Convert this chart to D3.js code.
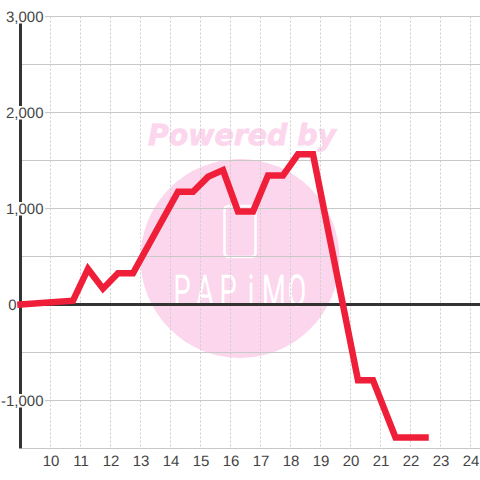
<!DOCTYPE html>
<html><head><meta charset="utf-8">
<script src="https://cdnjs.cloudflare.com/ajax/libs/d3/7.8.5/d3.min.js"></script>
<style>html,body{margin:0;padding:0;background:#fff}svg{display:block}text{font-family:"Liberation Sans",Arial,sans-serif;text-rendering:geometricPrecision}</style>
</head><body><svg id="c" width="480" height="480"></svg>
<script>
const xTicks=[10,11,12,13,14,15,16,17,18,19,20,21,22,23,24];
const yGrid=[3000,2500,2000,1500,1000,500,0,-500,-1000,-1500];
const yLabelled=[3000,2000,1000,0,-1000];
const seriesX=[9,10.75,11.25,11.75,12.25,12.75,14.25,14.75,15.25,15.75,16.25,16.75,17.25,17.75,18.25,18.75,20.25,20.75,21.5,22.5];
const seriesY=[0,40,370,165,325,325,1175,1175,1330,1400,970,970,1345,1345,1565,1565,-790,-790,-1385,-1385];
const watermarkTop="Powered by", watermarkNameLetters=["P","A","P","i","M","O"];

const svg=d3.select("#c");
const x=d3.scaleLinear().domain([9,24]).range([20.5,470.5]);
const y=d3.scaleLinear().domain([3000,-1500]).range([16.5,448.5]);
const fmt=d3.format(",");

// watermark
svg.append("circle").attr("cx",240).attr("cy",258.5).attr("r",99.5).attr("fill","#fcd6ed");
svg.append("text").text(watermarkTop).attr("x",242).attr("y",145).attr("text-anchor","middle")
  .style("font-family","'DejaVu Sans'").style("font-weight","bold").style("font-style","italic")
  .style("font-size","29px").attr("textLength",188).attr("lengthAdjust","spacingAndGlyphs")
  .attr("stroke","#fcd6ed").attr("stroke-width",0.8).attr("fill","#fcd6ed");
svg.append("rect").attr("x",224.5).attr("y",206).attr("width",31).attr("height",51).attr("rx",4)
  .attr("fill","none").attr("stroke","#fff").attr("stroke-width",2.5);
const nameX=d3.scalePoint().domain(d3.range(watermarkNameLetters.length)).range([182,297]);
svg.append("g").selectAll("text").data(watermarkNameLetters).join("text").text(d=>d)
  .attr("transform",(d,i)=>`translate(${nameX(i)},306) scale(0.62,1)`).attr("text-anchor","middle")
  .style("font-family","Roboto").style("font-weight","400").style("font-size","44px").attr("fill","#fff");

// vertical grid
svg.append("g").selectAll("line").data(xTicks).join("line")
  .attr("x1",d=>x(d)).attr("x2",d=>x(d)).attr("y1",y(3000)).attr("y2",y(-1500))
  .attr("stroke","#ccc").attr("stroke-dasharray","2,2");

// horizontal grid
svg.append("g").selectAll("line").data(yGrid.filter(d=>d!==0)).join("line")
  .attr("x1",d=>yLabelled.includes(d)?45:22).attr("x2",480)
  .attr("y1",d=>y(d)).attr("y2",d=>y(d)).attr("stroke","#c8c8c8");

// left axis line
svg.append("line").attr("x1",x(9)).attr("x2",x(9)).attr("y1",y(3000)).attr("y2",y(-1500))
  .attr("stroke","#333").attr("stroke-width",3);
// zero line
svg.append("line").attr("x1",44).attr("x2",480).attr("y1",y(0)).attr("y2",y(0))
  .attr("stroke","#333").attr("stroke-width",3);

// y labels
const yl=svg.append("g").selectAll("g").data(yLabelled).join("g");
yl.filter(d=>d!==0).append("rect").attr("x",2).attr("width",43)
  .attr("y",d=>y(d)-6.5).attr("height",13.5).attr("fill","#fff");
yl.append("text").text(d=>fmt(d).replace("−","-"))
  .attr("x",d=>d===0?16.5:43.5).attr("y",d=>y(d)+5).attr("text-anchor","end")
  .style("font-size","15px").attr("fill","#444");

// x labels
svg.append("g").selectAll("text").data(xTicks).join("text").text(d=>d)
  .attr("x",d=>x(d)+0.5).attr("y",466).attr("text-anchor","middle")
  .style("font-size","15px").attr("fill","#444");

// series
const line=d3.line().x(d=>x(d[0])).y(d=>y(d[1]));
svg.append("path").datum(d3.zip(seriesX,seriesY)).attr("d",line)
  .attr("fill","none").attr("stroke","#ef1f39").attr("stroke-width",6.5)
  .attr("stroke-linejoin","miter").attr("stroke-linecap","square");
</script></body></html>
